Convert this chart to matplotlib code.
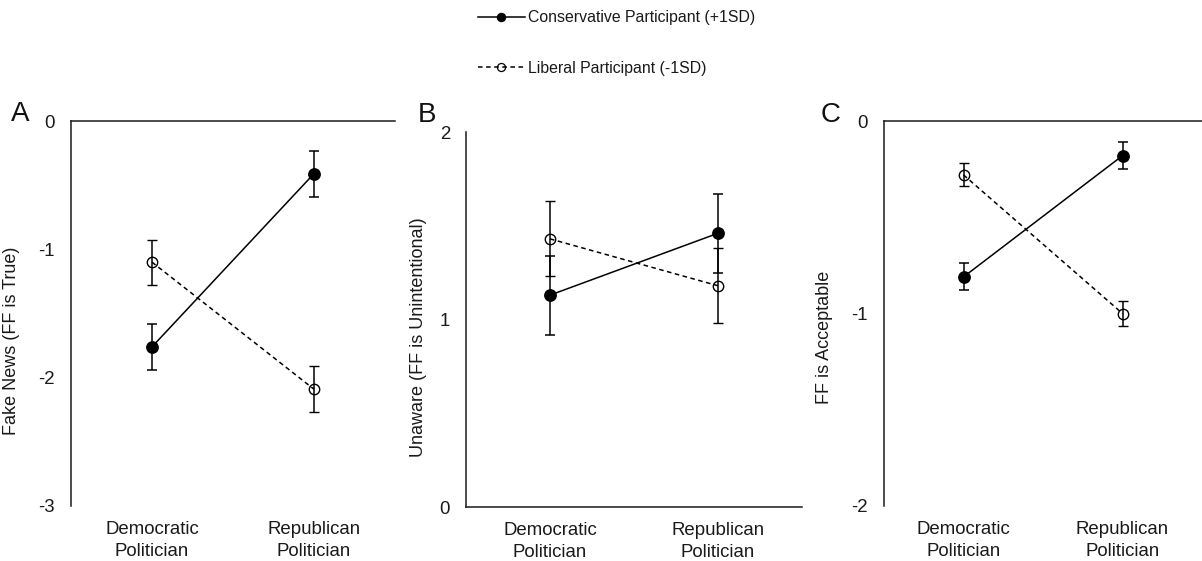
#!/usr/bin/env python

# Three interaction panels: participant ideology x politician party
import numpy as np
import matplotlib
matplotlib.use('Agg')
import matplotlib.pyplot as plt
from matplotlib.lines import Line2D

plt.rcParams['font.family'] = ['Liberation Sans', 'DejaVu Sans']

categories = ['Democratic\nPolitician', 'Republican\nPolitician']
series_labels = ['Conservative Participant (+1SD)', 'Liberal Participant (-1SD)']

# Panel A - Fake News (FF is True)
a_cons = [-1.76, -0.41]
a_cons_err = [0.18, 0.18]
a_lib = [-1.10, -2.09]
a_lib_err = [0.175, 0.18]
a_ticks = [0, -1, -2, -3]

# Panel B - Unaware (FF is Unintentional)
b_cons = [1.13, 1.46]
b_cons_err = [0.21, 0.21]
b_lib = [1.43, 1.18]
b_lib_err = [0.20, 0.20]
b_ticks = [0, 1, 2]

# Panel C - FF is Acceptable
c_cons = [-0.81, -0.18]
c_cons_err = [0.07, 0.07]
c_lib = [-0.28, -1.00]
c_lib_err = [0.06, 0.065]
c_ticks = [0, -1, -2]

W, H = 1202, 561
fig = plt.figure(figsize=(W/100, H/100), dpi=100, facecolor='white')

panels = [
    # rect, letter, ylabel, ylim, ticks, cons, cons_err, lib, lib_err, axis-at-top, label pos
    ([71/W, 55/H, 324/W, 385/H], 'A', 'Fake News (FF is True)', (-3, 0), a_ticks,
     a_cons, a_cons_err, a_lib, a_lib_err, True, (-0.156, 0.43), (20.5, 114)),
    ([466/W, 54/H, 336/W, 375/H], 'B', 'Unaware (FF is Unintentional)', (0, 2), b_ticks,
     b_cons, b_cons_err, b_lib, b_lib_err, False, (-0.115, 0.452), (426.5, 115)),
    ([884/W, 55/H, 318/W, 385/H], 'C', 'FF is Acceptable', (-2, 0), c_ticks,
     c_cons, c_cons_err, c_lib, c_lib_err, True, (-0.161, 0.438), (830.5, 115.5)),
]

x = np.arange(len(categories)) + 0.5
lw = 1.1
ink = '#1a1a1a'

for (rect, letter, ylabel, ylim, ticks, cons, cons_err, lib, lib_err,
     top_axis, lab_pos, let_pos) in panels:
    ax = fig.add_axes(rect)
    ax.set_xlim(0, len(categories))
    ax.set_ylim(*ylim)

    ax.errorbar(x, lib, yerr=lib_err, fmt='o', linestyle=(0, (3, 2.3)),
                color='black', mfc='none', mec='black', markersize=7.5,
                mew=1.0, lw=lw, elinewidth=lw, capsize=3.6, capthick=lw,
                zorder=3)
    ax.errorbar(x, cons, yerr=cons_err, fmt='o', linestyle='-',
                color='black', markersize=8.2, lw=lw, elinewidth=lw,
                capsize=3.6, capthick=lw, zorder=4)

    ax.set_xticks(x, labels=categories)
    ax.set_yticks(ticks, labels=[str(t) for t in ticks])
    ax.tick_params(axis='x', length=0, pad=10.5, labelsize=13.4, colors=ink)
    ax.tick_params(axis='y', length=0, pad=11.5, labelsize=13.4, colors=ink)
    for lab in ax.get_xticklabels():
        lab.set_linespacing(1.4)

    ax.spines['right'].set_visible(False)
    if top_axis:
        ax.spines['bottom'].set_visible(False)
    else:
        ax.spines['top'].set_visible(False)
    for s in ax.spines.values():
        s.set_linewidth(1.1)
        s.set_color(ink)

    ax.set_ylabel(ylabel, fontsize=13, color=ink)
    ax.yaxis.set_label_coords(*lab_pos)
    ax.patch.set_alpha(0)

    fig.text(let_pos[0]/W, 1 - let_pos[1]/H, letter, fontsize=20,
             ha='center', va='center', color='#111111')

# Legend at the top of the figure
handles = [
    Line2D([], [], color='black', lw=lw, marker='o', markersize=5.8),
    Line2D([], [], color='black', lw=lw, linestyle=(0, (3, 2.3)), marker='o',
           markersize=5.8, mfc='none', mew=0.9),
]
fig.legend(handles, series_labels, loc='center left',
           bbox_to_anchor=(478/W, 1 - 43/H), frameon=False, fontsize=11.4,
           handlelength=2.95, handletextpad=0.2, labelspacing=2.25,
           borderpad=0, borderaxespad=0, labelcolor=ink)

fig.savefig('out.png', dpi=100)
